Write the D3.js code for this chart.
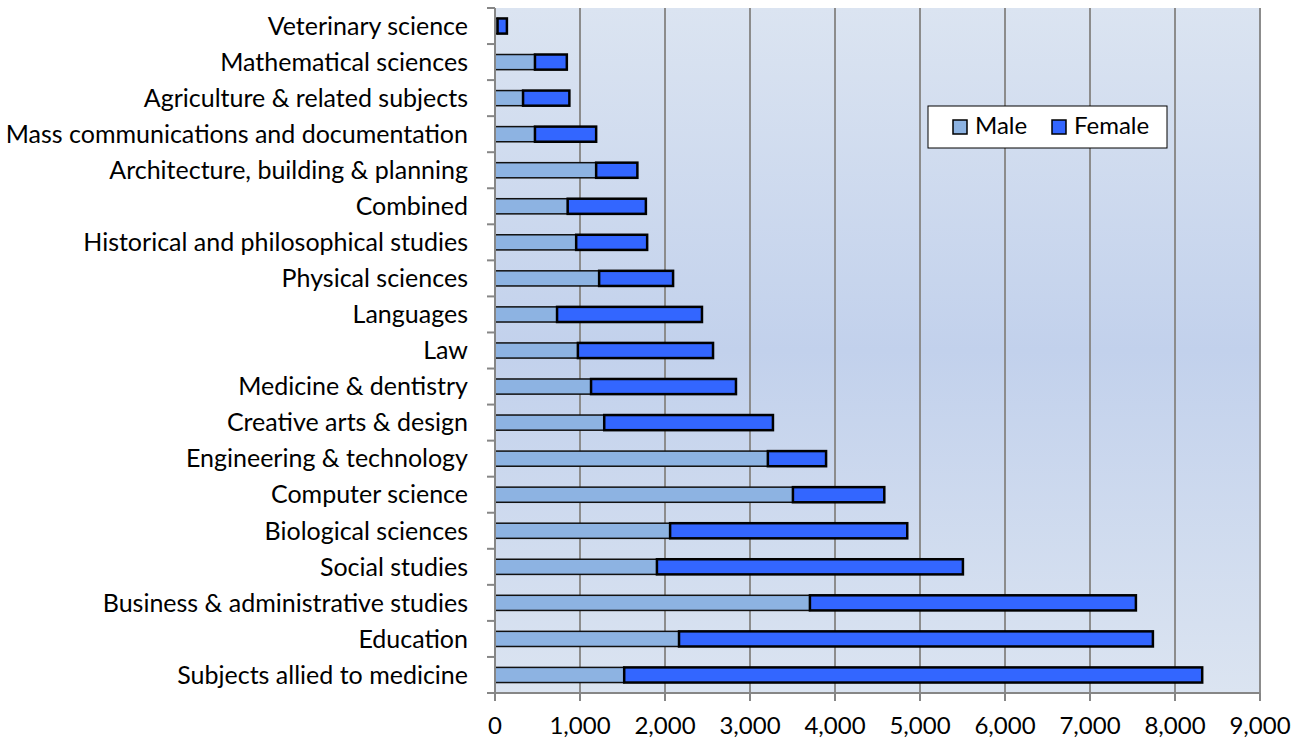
<!DOCTYPE html>
<html>
<head>
<meta charset="utf-8">
<script src="https://cdn.jsdelivr.net/npm/d3@7"></script>
<style>
  body { margin: 0; background: #fff; }
  svg text { font-family: Lato, "Open Sans", sans-serif; fill: #000; }
</style>
</head>
<body>
<script>
// data, top row first
const subjects = [
  "Veterinary science", "Mathematical sciences", "Agriculture & related subjects",
  "Mass communications and documentation", "Architecture, building & planning",
  "Combined", "Historical and philosophical studies", "Physical sciences",
  "Languages", "Law", "Medicine & dentistry", "Creative arts & design",
  "Engineering & technology", "Computer science", "Biological sciences",
  "Social studies", "Business & administrative studies", "Education",
  "Subjects allied to medicine"
];
const male = [30, 470, 330, 470, 1190, 855, 955, 1225, 730, 975, 1130, 1285,
  3210, 3505, 2060, 1905, 3705, 2165, 1520];
const female = [110, 375, 545, 720, 485, 920, 835, 870, 1705, 1590, 1705, 1985,
  685, 1075, 2790, 3600, 3835, 5575, 6800];
const xTicks = [0, 1000, 2000, 3000, 4000, 5000, 6000, 7000, 8000, 9000];

const width = 1302, height = 742;
const plotLeft = 495, plotRight = 1260, plotTop = 8, plotBottom = 693;

const svg = d3.select("body").append("svg")
  .attr("width", width).attr("height", height);

// background gradient of the plot area
const grad = svg.append("defs").append("linearGradient")
  .attr("id", "bg").attr("x1", 0).attr("x2", 0).attr("y1", 0).attr("y2", 1);
grad.append("stop").attr("offset", "0%").attr("stop-color", "#dbe4f1");
grad.append("stop").attr("offset", "50%").attr("stop-color", "#c2d1ec");
grad.append("stop").attr("offset", "100%").attr("stop-color", "#dbe4f1");

const x = d3.scaleLinear().domain([0, 9000]).range([plotLeft, plotRight]);
const y = d3.scaleBand().domain(subjects).range([plotTop, plotBottom])
  .paddingInner(0.58).paddingOuter(0.29);

svg.append("rect")
  .attr("x", plotLeft).attr("y", plotTop)
  .attr("width", plotRight - plotLeft).attr("height", plotBottom - plotTop)
  .attr("fill", "url(#bg)");

// gridlines
svg.append("g").selectAll("line")
  .data(xTicks.slice(1))
  .join("line")
  .attr("x1", d => x(d)).attr("x2", d => x(d))
  .attr("y1", plotTop).attr("y2", plotBottom)
  .attr("stroke", "#8c8c8c").attr("stroke-width", 2);

// bars
const rows = subjects.map((s, i) => ({ s, m: male[i], f: female[i] }));

svg.append("g").selectAll("rect")
  .data(rows)
  .join("rect")
  .attr("x", x(0))
  .attr("y", d => y(d.s))
  .attr("width", d => x(d.m) - x(0))
  .attr("height", y.bandwidth())
  .attr("fill", "#8db3e2")
  .attr("stroke", "#111").attr("stroke-width", 1.5);

svg.append("g").selectAll("rect")
  .data(rows)
  .join("rect")
  .attr("x", d => x(d.m))
  .attr("y", d => y(d.s))
  .attr("width", d => x(d.m + d.f) - x(d.m))
  .attr("height", y.bandwidth())
  .attr("fill", "#3366ff")
  .attr("stroke", "#000").attr("stroke-width", 2.5);

// axes
const yAxis = svg.append("g");
yAxis.append("line")
  .attr("x1", plotLeft).attr("x2", plotLeft).attr("y1", plotTop).attr("y2", plotBottom + 8)
  .attr("stroke", "#868686").attr("stroke-width", 2);
yAxis.selectAll(".tk")
  .data(d3.range(subjects.length + 1))
  .join("line")
  .attr("x1", plotLeft - 8).attr("x2", plotLeft)
  .attr("y1", i => plotTop + i * y.step()).attr("y2", i => plotTop + i * y.step())
  .attr("stroke", "#868686").attr("stroke-width", 2);
yAxis.selectAll("text")
  .data(subjects)
  .join("text")
  .attr("x", plotLeft - 27)
  .attr("y", d => y(d) + y.bandwidth() / 2)
  .attr("dy", "0.35em")
  .attr("text-anchor", "end")
  .attr("font-size", 25)
  .text(d => d);

const xAxis = svg.append("g");
xAxis.append("line")
  .attr("x1", plotLeft - 8).attr("x2", plotRight).attr("y1", plotBottom).attr("y2", plotBottom)
  .attr("stroke", "#868686").attr("stroke-width", 2);
xAxis.selectAll("line.tk")
  .data(xTicks)
  .join("line")
  .attr("class", "tk")
  .attr("x1", d => x(d)).attr("x2", d => x(d))
  .attr("y1", plotBottom).attr("y2", plotBottom + 8)
  .attr("stroke", "#868686").attr("stroke-width", 2);
xAxis.selectAll("text")
  .data(xTicks)
  .join("text")
  .attr("x", d => x(d))
  .attr("y", 734)
  .attr("text-anchor", "middle")
  .attr("font-size", 24)
  .text(d => d3.format(",")(d));

// legend
const leg = svg.append("g");
leg.append("rect")
  .attr("x", 928).attr("y", 106).attr("width", 239).attr("height", 42)
  .attr("fill", "#fff").attr("stroke", "#000").attr("stroke-width", 1);
const items = [["Male", "#8db3e2", 953], ["Female", "#3366ff", 1052]];
items.forEach(([name, color, lx]) => {
  leg.append("rect")
    .attr("x", lx).attr("y", 120).attr("width", 14).attr("height", 14)
    .attr("fill", color).attr("stroke", "#000").attr("stroke-width", 1.5);
  leg.append("text")
    .attr("x", lx + 22).attr("y", 126).attr("dy", "0.35em")
    .attr("font-size", 24)
    .text(name);
});
</script>
</body>
</html>
